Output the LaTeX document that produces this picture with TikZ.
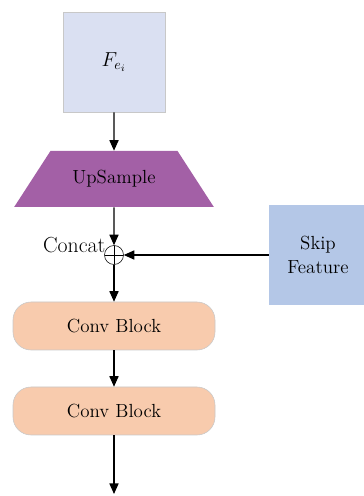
\documentclass[tikz,border=0pt]{standalone}
\usepackage{tikz}
\usetikzlibrary{arrows.meta,shapes.geometric}
\usepackage{amsmath}
\definecolor{featfill}{HTML}{DAE0F2}
\definecolor{upfill}{HTML}{A360A6}
\definecolor{skipfill}{HTML}{B4C7E7}
\definecolor{convfill}{HTML}{F8CBAD}
\definecolor{edgegray}{HTML}{C8C8C8}
\tikzset{
    flow/.style={-{Triangle[length=7.5pt,width=6.5pt]},line width=0.9pt},
    convbox/.style={draw=edgegray,fill=convfill,rounded corners=0.45cm,minimum width=5.05cm,minimum height=1.2cm,font=\fontsize{13.5}{15}\selectfont},
    catnode/.style={draw,circle,thin,minimum size=0.475cm,inner sep=0pt,
        path picture={\draw[thin] (path picture bounding box.north) -- (path picture bounding box.south)
        (path picture bounding box.west) -- (path picture bounding box.east);}}
}

\begin{document}
\begin{tikzpicture}
    \useasboundingbox (0,0) rectangle (9.1,12.4);
    \node[draw=edgegray,fill=featfill,minimum width=2.55cm,minimum height=2.5cm] (feat) at (2.85,10.85) {\fontsize{14.5}{16}\selectfont $F_{e_i}$};
    \node[trapezium,fill=upfill,trapezium stretches=true,trapezium left angle=45,trapezium right angle=45,minimum width=5cm,minimum height=1.4cm,font=\fontsize{13.5}{15}\selectfont] (up) at (2.85,7.925) {UpSample};
    \node[catnode] (cat) at (2.85,6.025) {};
    \node[anchor=base east,inner sep=0pt,font=\fontsize{15.5}{17}\selectfont] (catlbl) at (2.64,6.075) {Concat};
    \node[fill=skipfill,minimum width=2.45cm,minimum height=2.525cm,align=center,font=\fontsize{13.5}{17}\selectfont] (skip) at (7.95,6.025) {Skip\\Feature};
    \node[convbox] (conva) at (2.85,4.25) {Conv Block};
    \node[convbox] (convb) at (2.85,2.125) {Conv Block};
    \coordinate (out) at (2.85,0.05);
    \draw[flow] (feat) -- (up);
    \draw[flow] (up) -- (cat);
    \draw[flow] (skip) -- (cat);
    \draw[flow] (cat) -- (conva);
    \draw[flow] (conva) -- (convb);
    \draw[flow] (convb) -- (out);
\end{tikzpicture}
\end{document}
